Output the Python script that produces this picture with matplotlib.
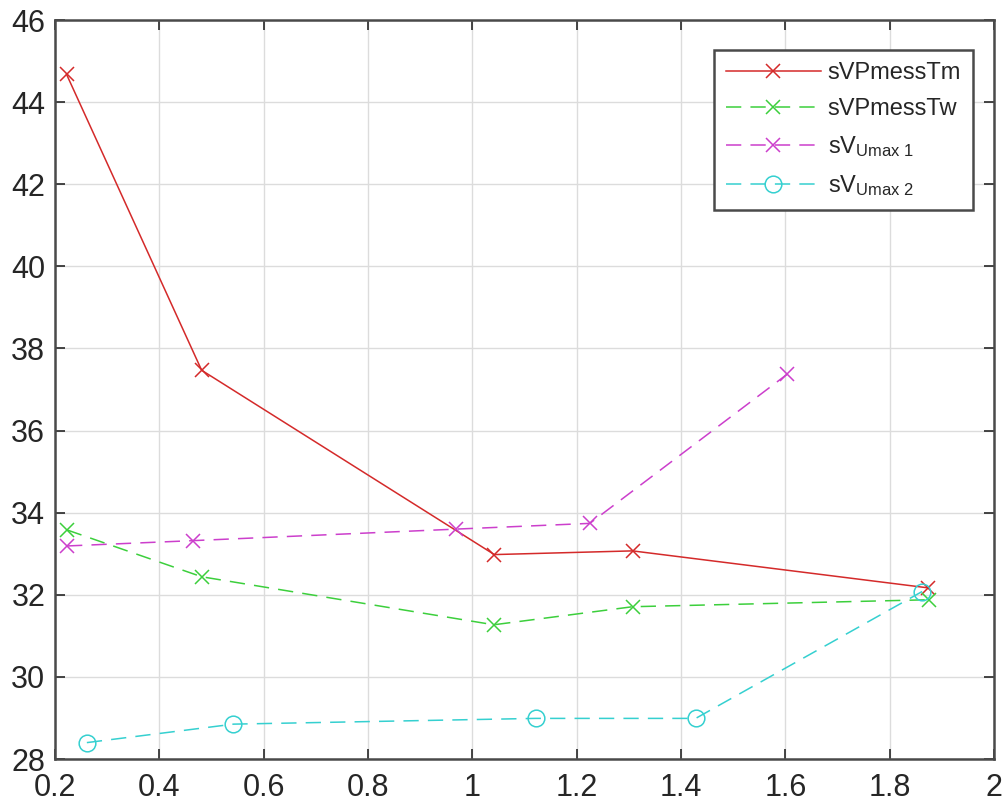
import matplotlib
matplotlib.use("Agg")
import matplotlib.pyplot as plt

plt.rcParams['font.family'] = ['Liberation Sans', 'DejaVu Sans']
plt.rcParams['mathtext.fontset'] = 'custom'
plt.rcParams['mathtext.rm'] = 'Liberation Sans'
plt.rcParams['mathtext.it'] = 'Liberation Sans:italic'

# measured series
x_tm = [0.222, 0.481, 1.042, 1.307, 1.873]
y_tm = [44.68, 37.47, 32.98, 33.07, 32.17]

x_tw = [0.223, 0.481, 1.041, 1.307, 1.876]
y_tw = [33.58, 32.44, 31.27, 31.71, 31.88]

x_u1 = [0.223, 0.465, 0.968, 1.225, 1.603]
y_u1 = [33.19, 33.32, 33.60, 33.74, 37.37]

x_u2 = [0.261, 0.542, 1.121, 1.428, 1.862]
y_u2 = [28.40, 28.85, 28.99, 28.99, 32.08]

xticks = [0.2, 0.4, 0.6, 0.8, 1, 1.2, 1.4, 1.6, 1.8, 2]
xticklabels = ['0.2', '0.4', '0.6', '0.8', '1', '1.2', '1.4', '1.6', '1.8', '2']
yticks = [28, 30, 32, 34, 36, 38, 40, 42, 44, 46]

fig = plt.figure(figsize=(10.06, 8.05), dpi=100)
ax = fig.add_axes([0.0547, 0.0571, 0.9335, 0.918])

lw = 1.1
dash = (10, 6)
ax.plot(x_tm, y_tm, '-x', color='#d42a2a', lw=lw, ms=10, mew=1.1, label='sVPmessTm')
ax.plot(x_tw, y_tw, '--x', color='#3ccf3c', lw=lw, ms=10, mew=1.1, dashes=dash, label='sVPmessTw')
ax.plot(x_u1, y_u1, '--x', color='#cc3fcc', lw=lw, ms=10, mew=1.1, dashes=dash,
        label=r'sV$_{\mathrm{Umax\ 1}}$')
ax.plot(x_u2, y_u2, '--o', color='#35d0d0', lw=lw, ms=12, mew=1.1, mfc='none', dashes=dash,
        label=r'sV$_{\mathrm{Umax\ 2}}$')

ax.set_xlim(0.2, 2)
ax.set_ylim(28, 46)
ax.set_xticks(xticks)
ax.set_xticklabels(xticklabels)
ax.set_yticks(yticks)
ax.grid(True, color='#dcdcdc', lw=1.0)
ax.set_axisbelow(True)

ax.tick_params(direction='in', length=7, width=1.2, colors='#262626', labelsize=22,
               top=True, right=True)
ax.tick_params(axis='x', pad=10)
ax.tick_params(axis='y', pad=7)
for lab in ax.get_xticklabels() + ax.get_yticklabels():
    lab.set_fontfamily(['Liberation Sans Narrow', 'Liberation Sans'])
for s in ax.spines.values():
    s.set_color('#4a4a4a')
    s.set_linewidth(1.8)

leg = ax.legend(loc='upper right', bbox_to_anchor=(0.99, 0.975), fontsize=17,
                handlelength=4.0, handletextpad=0.3, labelspacing=0.6,
                borderpad=0.5, fancybox=False, framealpha=1)
leg.get_frame().set_edgecolor('#4a4a4a')
leg.get_frame().set_linewidth(1.8)
for t in leg.get_texts():
    t.set_color('#262626')

fig.savefig('out.png', dpi=100)
